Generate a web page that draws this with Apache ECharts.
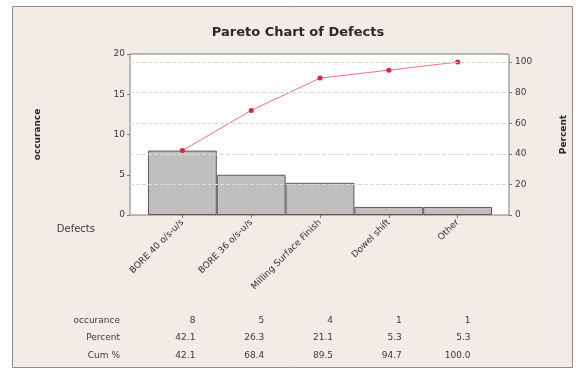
<!DOCTYPE html>
<html>
<head>
<meta charset="utf-8">
<script src="https://cdn.jsdelivr.net/npm/echarts@6/dist/echarts.min.js"></script>
<style>
  html, body { margin: 0; padding: 0; background: #fff; }
  #chart { width: 576px; height: 371px; }
</style>
</head>
<body>
<div id="chart"></div>
<script>
// pareto data
var defects = ['BORE 40 o/s-u/s', 'BORE 36 o/s-u/s', 'Milling Surface Finish', 'Dowel shift', 'Other'];
var counts = [8, 5, 4, 1, 1];
var percents = [42.1, 26.3, 21.1, 5.3, 5.3];
var cumPercents = [42.1, 68.4, 89.5, 94.7, 100.0];
var rowNames = ['occurance', 'Percent', 'Cum %'];
var countTicks = [0, 5, 10, 15, 20];
var percentTicks = [0, 20, 40, 60, 80, 100];

var total = 0;
for (var i = 0; i < counts.length; i++) total += counts[i];
var pctMax = 20 / total * 100;   // right axis matches count axis

var font = 'DejaVu Sans';
var txt = '#3a3a3a';

var chart = echarts.init(document.getElementById('chart'));

var tableAxis = function (data, offset) {
    return {
        type: 'category', gridIndex: 2, position: 'bottom', offset: offset,
        data: data,
        axisLine: {show: false}, axisTick: {show: false},
        axisLabel: {margin: 0, verticalAlign: 'middle', align: 'right', interval: 0,
            color: txt, fontSize: 9, fontFamily: font}
    };
};

var rowY = [321, 338, 356];

var option = {
    animation: false,
    graphic: [
        {type: 'rect', z: -10, shape: {x: 12.5, y: 6.5, width: 560, height: 361},
            style: {fill: '#f1ece6', stroke: '#8c8c8c', lineWidth: 1}},
        {type: 'text', x: 298, y: 33, z: 10,
            style: {text: 'Pareto Chart of Defects', font: 'bold 13px ' + font, fill: '#2a2a2a',
                align: 'center', verticalAlign: 'middle'}},
        {type: 'text', x: 95, y: 229, z: 10,
            style: {text: 'Defects', font: '10px ' + font, fill: txt, align: 'right', verticalAlign: 'middle'}}
    ].concat(rowNames.map(function (n, k) {
        return {type: 'text', x: 120, y: rowY[k], z: 10,
            style: {text: n, font: '9px ' + font, fill: txt, align: 'right', verticalAlign: 'middle'}};
    })),
    grid: [
        {left: 130, right: 67, top: 54, bottom: 156, show: true, backgroundColor: '#fff',
            borderColor: '#7a7a7a', borderWidth: 1},
        {left: 148, right: 84, top: 54, bottom: 156},
        {left: 161, right: 71, top: 54, bottom: 156}
    ],
    xAxis: [
        {type: 'value', gridIndex: 0, show: false, min: 0, max: 1},
        {
            type: 'category', gridIndex: 1, data: defects,
            axisLine: {show: false},
            axisTick: {show: true, alignWithLabel: true, length: 3, lineStyle: {color: '#7a7a7a'}},
            axisLabel: {rotate: 45, interval: 0, margin: 6, color: '#333', fontSize: 9, fontFamily: font}
        },
        tableAxis(counts.map(String), rowY[0] - 215),
        tableAxis(percents.map(function (v) { return v.toFixed(1); }), rowY[1] - 215),
        tableAxis(cumPercents.map(function (v) { return v.toFixed(1); }), rowY[2] - 215)
    ],
    yAxis: [
        {
            type: 'value', gridIndex: 0, position: 'left', min: 0, max: 20, interval: 5,
            name: 'occurance', nameLocation: 'middle', nameGap: 88,
            nameTextStyle: {fontWeight: 'bold', fontSize: 9, color: '#2a2a2a', fontFamily: font},
            axisLine: {show: false},
            axisTick: {show: true, length: 3, lineStyle: {color: '#7a7a7a'}},
            axisLabel: {color: txt, fontSize: 9, fontFamily: font, margin: 5,
                customValues: countTicks},
            splitLine: {show: false}
        },
        {
            type: 'value', gridIndex: 0, position: 'right', min: 0, max: pctMax,
            name: 'Percent', nameLocation: 'middle', nameGap: 50,
            nameTextStyle: {fontWeight: 'bold', fontSize: 9, color: '#2a2a2a', fontFamily: font},
            axisLine: {show: false},
            axisTick: {show: true, length: 3, lineStyle: {color: '#7a7a7a'}, customValues: percentTicks},
            axisLabel: {color: txt, fontSize: 9, fontFamily: font, margin: 6, customValues: percentTicks},
            splitLine: {show: false}
        },
        {type: 'value', gridIndex: 1, min: 0, max: 20, show: false},
        {type: 'value', gridIndex: 1, min: 0, max: pctMax, show: false},
        {type: 'value', gridIndex: 2, min: 0, max: 20, show: false}
    ],
    series: [
        {
            // dashed grid lines at percent ticks
            type: 'line', xAxisIndex: 0, yAxisIndex: 1, silent: true, data: [],
            markLine: {
                silent: true, symbol: 'none', label: {show: false},
                lineStyle: {type: 'dashed', color: '#dadada', width: 1},
                data: percentTicks.slice(1).map(function (v) { return {yAxis: v}; })
            }
        },
        {
            name: 'occurance', type: 'bar', xAxisIndex: 1, yAxisIndex: 2,
            data: counts, barCategoryGap: 0,
            itemStyle: {color: '#bfbfbf', borderColor: '#5a5a5a', borderWidth: 1}
        },
        {
            name: 'Cum %', type: 'line', xAxisIndex: 1, yAxisIndex: 3,
            data: cumPercents, symbol: 'circle', symbolSize: 5,
            lineStyle: {color: '#ff6f7a', width: 1},
            itemStyle: {color: '#e0233a'}
        }
    ]
};

chart.setOption(option);
</script>
</body>
</html>
